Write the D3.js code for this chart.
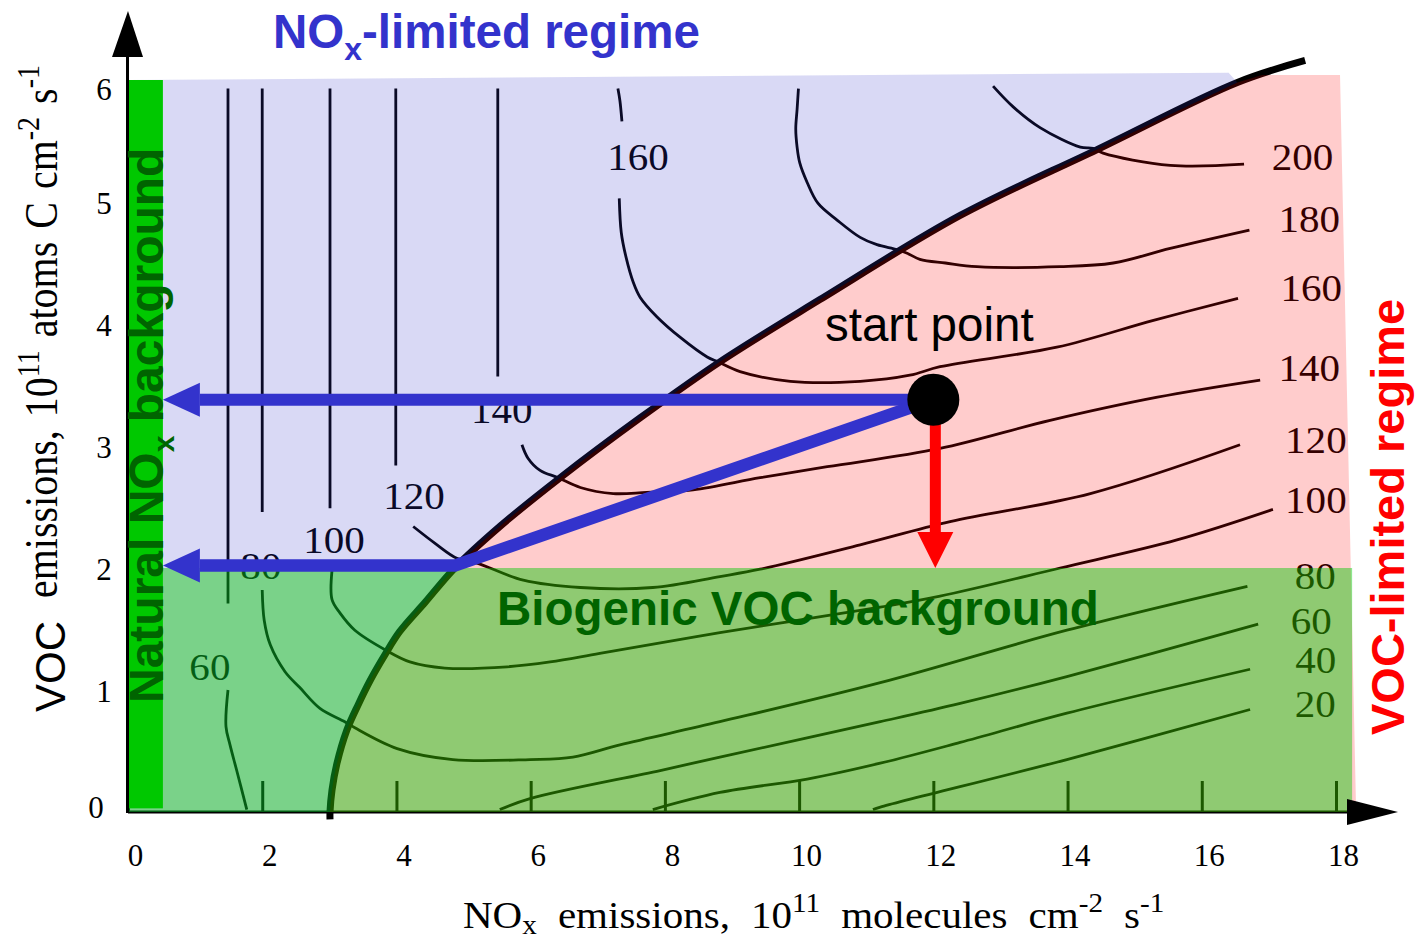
<!DOCTYPE html>
<html>
<head>
<meta charset="utf-8">
<title>Ozone isopleths: NOx- and VOC-limited regimes</title>
<script src="https://cdn.jsdelivr.net/npm/d3@7"></script>
<style>
  html, body { margin: 0; padding: 0; background: #fff; }
  svg { display: block; }
</style>
</head>
<body>
<svg id="chart" width="1415" height="940"></svg>
<script>
// ---- axis ticks ----
const xTicks = [0, 2, 4, 6, 8, 10, 12, 14, 16, 18];
const yTicks = [0, 1, 2, 3, 4, 5, 6];

// ---- ozone isopleths (ppb), points are [NOx emission, VOC emission] ----
const iso60Upper = [[1.49, 5.93], [1.49, 1.71]];
const iso60Lower = [[1.49, 1.00], [1.46, 0.70], [1.52, 0.55], [1.62, 0.34], [1.77, 0.02]];
const iso60Voc = [[5.54, 0.02], [5.99, 0.11], [7.93, 0.34], [8.82, 0.45], [11.21, 0.74], [12.40, 0.89], [13.99, 1.11], [16.84, 1.54]];

const iso80Upper = [[2.00, 5.93], [2.00, 2.46]];
const iso80Lower = [[2.00, 1.82], [2.03, 1.57], [2.12, 1.37], [2.34, 1.15], [2.56, 1.02], [2.86, 0.85], [3.23, 0.74], [3.38, 0.69], [4.01, 0.52], [4.84, 0.43], [5.99, 0.43], [6.63, 0.45], [7.33, 0.55], [8.82, 0.74], [11.21, 1.06], [13.99, 1.49], [16.68, 1.85]];

const iso100Upper = [[3.01, 5.93], [3.01, 2.49]];
const iso100Lower = [[3.04, 1.98], [3.04, 1.74], [3.16, 1.63], [3.38, 1.49], [3.83, 1.33], [4.20, 1.23], [4.72, 1.18], [5.65, 1.19], [6.29, 1.23], [7.03, 1.30], [8.82, 1.47], [11.21, 1.68], [12.10, 1.77], [13.89, 2.00], [15.63, 2.23], [17.06, 2.48]];

const iso120Upper = [[3.99, 5.93], [3.99, 2.84]];
const iso120Lower = [[4.25, 2.34], [4.58, 2.20], [4.90, 2.08], [5.20, 2.04], [5.89, 1.90], [6.74, 1.84], [7.82, 1.84], [8.82, 1.93], [9.42, 1.99], [10.91, 2.19], [12.25, 2.38], [14.34, 2.61], [16.57, 3.01]];

const iso140Upper = [[5.51, 5.93], [5.51, 3.57]];
const iso140Lower = [[5.87, 3.01], [5.96, 2.90], [6.14, 2.80], [6.41, 2.74], [6.74, 2.66], [7.23, 2.61], [7.73, 2.62], [8.42, 2.64], [9.42, 2.74], [10.42, 2.83], [12.10, 2.98], [13.74, 3.21], [15.34, 3.40], [16.87, 3.54]];

const iso160Upper = [[7.30, 5.93], [7.33, 5.83], [7.36, 5.66]];
const iso160Lower = [[7.32, 5.03], [7.35, 4.75], [7.42, 4.55], [7.53, 4.34], [7.63, 4.22], [7.88, 4.06], [8.23, 3.89], [8.63, 3.73], [8.79, 3.69], [9.12, 3.61], [9.87, 3.53], [10.91, 3.53], [11.65, 3.58], [12.10, 3.65], [13.84, 3.81], [15.28, 4.03], [16.54, 4.21]];

const iso180 = [[9.99, 5.93], [9.97, 5.76], [9.95, 5.60], [9.97, 5.45], [10.01, 5.32], [10.12, 5.16], [10.28, 4.99], [10.57, 4.85], [10.91, 4.71], [11.16, 4.65], [11.46, 4.61], [11.61, 4.58], [11.80, 4.53], [12.18, 4.50], [12.65, 4.47], [13.89, 4.47], [14.68, 4.50], [15.53, 4.62], [16.71, 4.77]];

const iso200 = [[12.89, 5.95], [13.19, 5.78], [13.59, 5.61], [14.19, 5.45], [14.38, 5.44], [14.53, 5.40], [15.53, 5.30], [16.63, 5.31]];

const iso40 = [[7.82, 0.02], [8.82, 0.16], [10.12, 0.27], [11.21, 0.40], [12.40, 0.57], [13.99, 0.81], [16.72, 1.17]];
const iso20 = [[11.10, 0.02], [11.21, 0.04], [13.99, 0.43], [16.72, 0.84]];

const isopleths = [
  iso60Upper, iso60Lower, iso60Voc,
  iso80Upper, iso80Lower,
  iso100Upper, iso100Lower,
  iso120Upper, iso120Lower,
  iso140Upper, iso140Lower,
  iso160Upper, iso160Lower,
  iso180, iso200, iso40, iso20
];

// isopleth labels: [ppb, NOx, VOC]
const labelsInner = [[60, 1.22, 1.19], [80, 1.98, 2.02], [100, 3.07, 2.23], [120, 4.26, 2.59], [140, 5.57, 3.30], [160, 7.60, 5.37]];
const labelsEdge = [[200, 17.50, 5.37], [180, 17.60, 4.86], [160, 17.63, 4.30], [140, 17.60, 3.64], [120, 17.70, 3.05], [100, 17.70, 2.56], [80, 17.69, 1.94], [60, 17.63, 1.57], [40, 17.70, 1.25], [20, 17.69, 0.89]];

// ridge line between the two regimes
const ridge = [[3.01, -0.06], [3.01, 0], [3.04, 0.18], [3.11, 0.39], [3.26, 0.67], [3.43, 0.88], [3.61, 1.08], [3.83, 1.29], [4.05, 1.48], [4.43, 1.72], [4.87, 2.00], [5.54, 2.34], [6.44, 2.74], [7.63, 3.23], [8.82, 3.69], [10.31, 4.20], [12.40, 4.89], [14.44, 5.43], [16.53, 5.98], [17.54, 6.16]];

// regime outlines and background sources
const noxLimitedTop = [[0, 6.0], [16.4, 6.06]];
const vocLimitedTop = [[16.9, 6.04], [18.06, 6.04], [18.3, 0]];
const biogenicVOC = 2.0;
const biogenicNOxMax = 18.24;
const naturalNOx = 0.52;

// emission-control paths
const startPoint = [12, 3.38];
const kneePoint = [4.87, 2.02];

// ---- scales ----
const svg = d3.select("#chart");
const x = d3.scaleLinear().domain([0, 18]).range([128, 1336]);
const y = d3.scaleLinear().domain([0, 6]).range([812, 80]);

const curve = d3.line().x(d => x(d[0])).y(d => y(d[1])).curve(d3.curveCatmullRom.alpha(0.5));
const px = p => `${x(p[0])},${y(p[1])}`;

const SERIF = "'Liberation Serif', 'Times New Roman', serif";
const SANS = "'Liberation Sans', Arial, sans-serif";

// ---- x axis ticks and labels ----
const xAxis = d3.axisBottom(x).tickValues(xTicks).tickSizeInner(-31).tickSizeOuter(0).tickPadding(32);
const gx = svg.append("g").attr("transform", `translate(0,${y(0)})`).call(xAxis);
gx.select(".domain").remove();
gx.selectAll(".tick line").attr("stroke", "#000").attr("stroke-width", 3);
gx.selectAll(".tick text")
  .attr("font-family", SERIF).attr("font-size", 31).attr("fill", "#000").attr("dx", 7);

svg.append("line")
  .attr("x1", x(0)).attr("x2", 1350).attr("y1", y(0)).attr("y2", y(0))
  .attr("stroke", "#000").attr("stroke-width", 3);

// ---- isopleths ----
svg.append("g")
  .attr("fill", "none").attr("stroke", "#000").attr("stroke-width", 2.8)
  .attr("stroke-linejoin", "round")
  .selectAll("path").data(isopleths).join("path")
  .attr("d", curve);

svg.append("g")
  .attr("font-family", SERIF).attr("font-size", 38).attr("fill", "#000")
  .selectAll("text").data(labelsInner.concat(labelsEdge)).join("text")
  .attr("transform", d => `translate(${x(d[1])},${y(d[2])}) scale(1.08,1)`)
  .attr("text-anchor", "middle").attr("dy", "0.35em")
  .text(d => d[0]);

// ---- ridge ----
svg.append("path")
  .attr("d", curve(ridge))
  .attr("fill", "none").attr("stroke", "#000").attr("stroke-width", 7);

// ---- regime shading ----
const ridgeIn = ridge.filter(p => p[1] >= 0 && p[0] <= 16.6);
const lavenderD = curve(ridgeIn.slice().reverse()) +
  "L" + px([0, 0]) + noxLimitedTop.map(p => "L" + px(p)).join("") + "Z";
const pinkD = curve(ridgeIn) + vocLimitedTop.map(p => "L" + px(p)).join("") + "Z";

svg.append("path").attr("d", lavenderD).attr("fill", "#3333cc").attr("fill-opacity", 0.19);
svg.append("path").attr("d", pinkD).attr("fill", "#ff0000").attr("fill-opacity", 0.2);

// biogenic VOC background band
svg.append("rect")
  .attr("x", x(0)).attr("y", y(biogenicVOC))
  .attr("width", x(biogenicNOxMax) - x(0)).attr("height", y(0) - y(biogenicVOC))
  .attr("fill", "#00c800").attr("fill-opacity", 0.44);

// natural NOx background band
svg.append("rect")
  .attr("x", x(0)).attr("y", y(6.0))
  .attr("width", x(naturalNOx) - x(0)).attr("height", y(0.03) - y(6.0))
  .attr("fill", "#00c800");

// ---- axis lines with arrowheads ----
svg.append("line")
  .attr("x1", x(0) - 0.5).attr("x2", x(0) - 0.5).attr("y1", y(0) + 1).attr("y2", 52)
  .attr("stroke", "#000").attr("stroke-width", 3);
svg.append("path").attr("d", `M${x(0)},11L${x(0) - 16},57L${x(0) + 15},57Z`).attr("fill", "#000");
svg.append("path").attr("d", `M1398,${y(0)}L1347,${y(0) - 13}L1347,${y(0) + 13}Z`).attr("fill", "#000");

// ---- y tick labels ----
svg.append("g")
  .attr("font-family", SERIF).attr("font-size", 31).attr("fill", "#000")
  .selectAll("text").data(yTicks).join("text")
  .attr("x", d => d === 0 ? 96 : 104)
  .attr("y", d => y(d) + (d === 6 ? 9 : d === 0 ? -5 : 1)).attr("dy", "0.35em")
  .attr("text-anchor", "middle")
  .text(d => d);

// ---- axis titles ----
const xt = svg.append("text")
  .attr("transform", "translate(463,928) scale(1.08,1)")
  .attr("font-family", SERIF).attr("font-size", 38).attr("fill", "#000")
  .attr("word-spacing", 10);
xt.append("tspan").text("NO");
xt.append("tspan").attr("font-size", 27).attr("dy", 6).text("x");
xt.append("tspan").attr("dy", -6).text(" emissions, 10");
xt.append("tspan").attr("font-size", 27).attr("dy", -16).text("11");
xt.append("tspan").attr("dy", 16).text(" molecules cm");
xt.append("tspan").attr("font-size", 27).attr("dy", -16).text("-2");
xt.append("tspan").attr("dy", 16).text(" s");
xt.append("tspan").attr("font-size", 27).attr("dy", -16).text("-1");

svg.append("text")
  .attr("transform", "translate(65,712) rotate(-90)")
  .attr("font-family", SANS).attr("font-size", 42).attr("fill", "#000")
  .text("VOC");

const yt = svg.append("text")
  .attr("transform", "translate(57,598) rotate(-90) scale(1,1.15)")
  .attr("font-family", SERIF).attr("font-size", 40).attr("fill", "#000")
  .attr("word-spacing", 3);
yt.append("tspan").text("emissions, 10");
yt.append("tspan").attr("font-size", 28).attr("dy", -16).text("11");
yt.append("tspan").attr("dy", 16).text(" atoms C cm");
yt.append("tspan").attr("font-size", 28).attr("dy", -16).text("-2");
yt.append("tspan").attr("dy", 16).text(" s");
yt.append("tspan").attr("font-size", 28).attr("dy", -16).text("-1");

// ---- emission-reduction arrows ----
const BLUE = "#3333cc";
const headLen = 37, headHalf = 17;
const tipX = x(naturalNOx);

svg.append("path")
  .attr("d", `M${px(startPoint)}L${tipX + headLen},${y(startPoint[1])}`)
  .attr("stroke", BLUE).attr("stroke-width", 12).attr("fill", "none");
svg.append("path")
  .attr("d", `M${px(startPoint)}L${px(kneePoint)}L${tipX + headLen},${y(kneePoint[1])}`)
  .attr("stroke", BLUE).attr("stroke-width", 12.5).attr("fill", "none").attr("stroke-linejoin", "miter");
[startPoint[1], kneePoint[1]].forEach(v => {
  const yy = y(v);
  svg.append("path")
    .attr("d", `M${tipX},${yy}L${tipX + headLen},${yy - headHalf}L${tipX + headLen},${yy + headHalf}Z`)
    .attr("fill", BLUE);
});

const redTipY = y(biogenicVOC);
svg.append("line")
  .attr("x1", x(startPoint[0]) + 2).attr("x2", x(startPoint[0]) + 2)
  .attr("y1", y(startPoint[1])).attr("y2", redTipY - 34)
  .attr("stroke", "#ff0000").attr("stroke-width", 11);
svg.append("path")
  .attr("d", `M${x(startPoint[0]) + 2},${redTipY}L${x(startPoint[0]) - 16},${redTipY - 36}L${x(startPoint[0]) + 20},${redTipY - 36}Z`)
  .attr("fill", "#ff0000");

svg.append("circle")
  .attr("cx", x(startPoint[0])).attr("cy", y(startPoint[1])).attr("r", 26)
  .attr("fill", "#000");

svg.append("text")
  .attr("x", 825).attr("y", 341)
  .attr("font-family", SANS).attr("font-size", 47.5).attr("fill", "#000")
  .text("start point");

// ---- regime and background annotations ----
const nt = svg.append("text")
  .attr("x", 273).attr("y", 48)
  .attr("font-family", SANS).attr("font-weight", "bold").attr("font-size", 47.5).attr("fill", BLUE);
nt.append("tspan").text("NO");
nt.append("tspan").attr("font-size", 32).attr("dy", 12).text("x");
nt.append("tspan").attr("dy", -12).text("-limited regime");

svg.append("text")
  .attr("transform", "translate(1404,735) rotate(-90)")
  .attr("font-family", SANS).attr("font-weight", "bold").attr("font-size", 47).attr("fill", "#ff0000")
  .text("VOC-limited regime");

const bt = svg.append("text")
  .attr("transform", `translate(163,703) rotate(-90)`)
  .attr("font-family", SANS).attr("font-weight", "bold").attr("font-size", 48).attr("fill", "#006400");
bt.append("tspan").text("Natural NO");
bt.append("tspan").attr("font-size", 30).attr("dy", 11).text("x");
bt.append("tspan").attr("dy", -11).text(" background");

svg.append("text")
  .attr("x", 497).attr("y", 625)
  .attr("font-family", SANS).attr("font-weight", "bold").attr("font-size", 47.5).attr("fill", "#006400")
  .text("Biogenic VOC background");
</script>
</body>
</html>
